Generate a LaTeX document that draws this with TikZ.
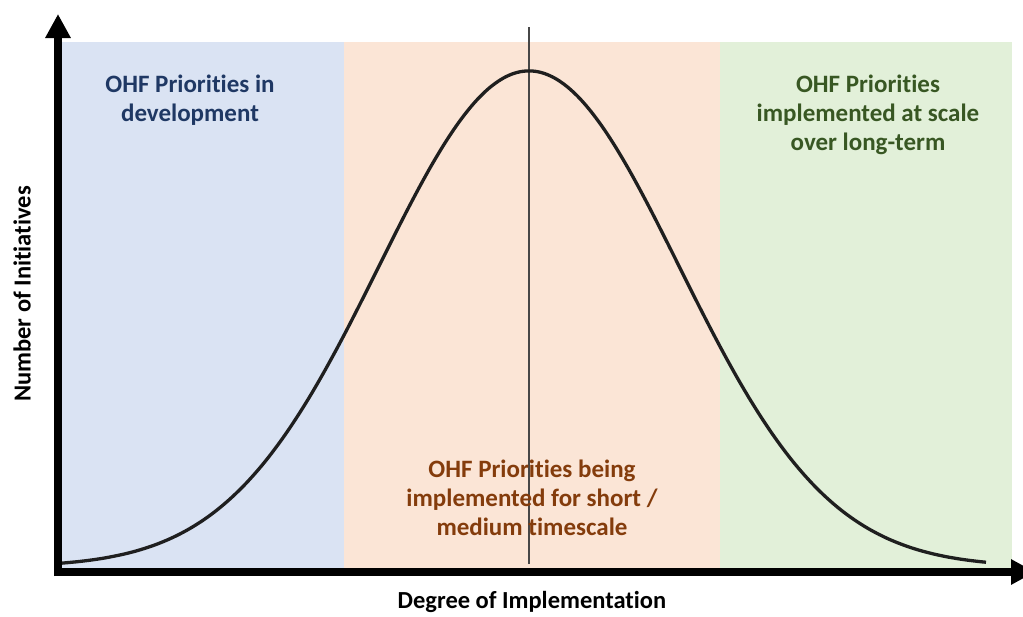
\documentclass[tikz,border=0pt]{standalone}
\usepackage{fontspec}
\setmainfont{Carlito}[Ligatures=NoCommon]
\usetikzlibrary{arrows.meta}
\definecolor{panelblue}{HTML}{DAE3F3}
\definecolor{panelpeach}{HTML}{FBE5D6}
\definecolor{panelgreen}{HTML}{E2F0D9}
\definecolor{txtblue}{HTML}{1F3864}
\definecolor{txtbrown}{HTML}{843C0C}
\definecolor{txtgreen}{HTML}{385723}
\begin{document}
\begin{tikzpicture}[x=1pt,y=-1pt,
  regiontext/.style={align=center,font=\bfseries\fontsize{25}{29}\selectfont,inner sep=0pt},
  axislabel/.style={font=\bfseries\fontsize{24.5}{28}\selectfont,inner sep=0pt},
  axisline/.style={line width=8pt,-{Triangle[length=24pt,width=24pt]}},
  curveline/.style={line width=3.3pt,color=black!88},
  midline/.style={line width=2.4pt,color=black!72}]
\useasboundingbox (0,0) rectangle (1023,616);
\fill[white] (0,0) rectangle (1023,616);
% panels
\fill[panelblue]  (62,42) rectangle (344,568);
\fill[panelpeach] (344,42) rectangle (720,568);
\fill[panelgreen] (720,42) rectangle (1012,568);
% vertical line
\coordinate (vtop) at (529,27);
\coordinate (vbot) at (529,564);
\draw[midline] (vtop) -- (vbot);
% bell curve
\draw[curveline] plot[domain=62:986,samples=200,smooth]
  (\x,{567-496*exp(-0.5*((\x-529)/150)^2)});
% axes
\coordinate (ytip) at (58,14);
\coordinate (xtip) at (1035,572);
\coordinate (ybase) at (58,576);
\coordinate (xbase) at (54,572);
\draw[axisline] (ybase) -- (ytip);
\draw[axisline] (xbase) -- (xtip);
% texts
\node[regiontext,text=txtblue] (dev) at (190,100) {OHF Priorities in\\development};
\node[regiontext,text=txtbrown] (short) at (532,498) {OHF Priorities being\\implemented for short /\\medium timescale};
\node[regiontext,text=txtgreen] (long) at (868,115) {OHF Priorities\\implemented at scale\\over long-term};
\node[axislabel] (xlab) at (532,602) {Degree of Implementation};
\node[axislabel,rotate=90] (ylab) at (22,294) {Number of Initiatives};
\end{tikzpicture}
\end{document}
